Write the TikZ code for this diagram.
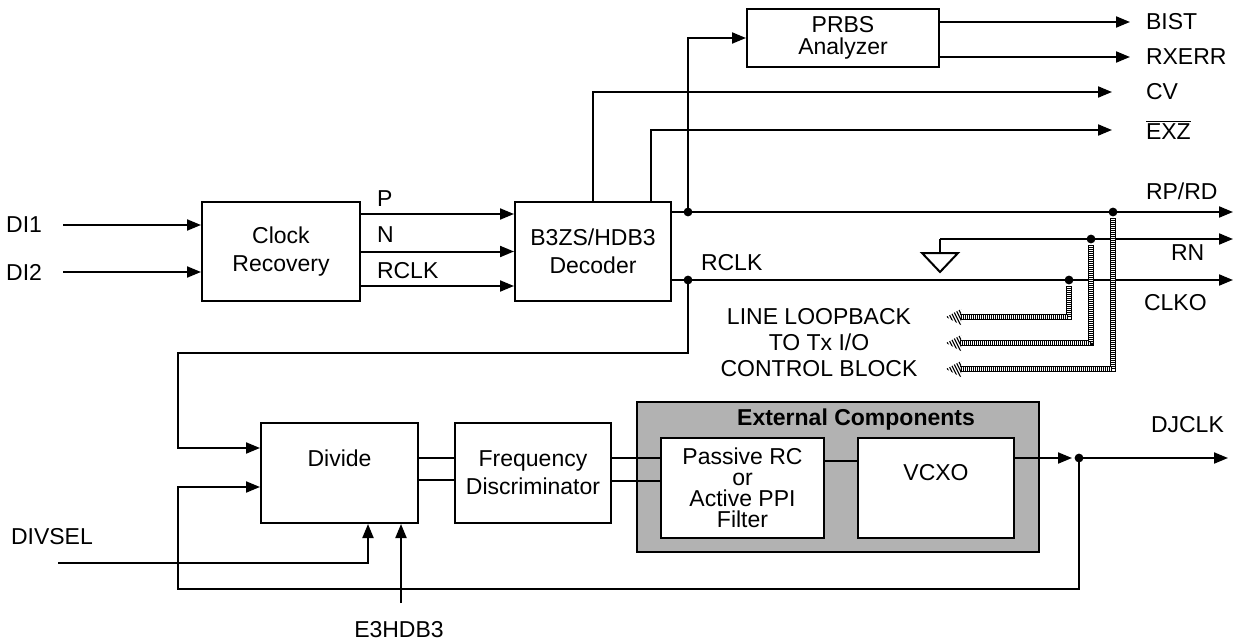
\documentclass[tikz,border=0pt]{standalone}
\usepackage{fontspec}
\setmainfont{Liberation Sans}
\usetikzlibrary{arrows.meta}

\begin{document}
\begin{tikzpicture}[x=0.5pt,y=-0.5pt,line width=1pt,
  font=\fontsize{11.5}{14}\selectfont,
  box/.style={draw,fill=white,align=center,inner sep=0pt},
  sig/.style={-{Triangle[length=7pt,width=5.5pt]}},
  loopedge/.style={line width=0.4pt,double,double distance=2pt},
  loophatch/.style={line width=2pt,dash pattern=on 0.45pt off 0.55pt},
  lbl/.style={inner sep=0pt}]
  \useasboundingbox (0,0) rectangle (1241,642);

  % blocks
  \node[box,minimum width=79pt,minimum height=49.5pt] (clk) at (281,251.5) {Clock\\Recovery};
  \node[box,minimum width=78pt,minimum height=49.5pt] (dec) at (593,251.5) {B3ZS/HDB3\\Decoder};
  \node[box,minimum width=96pt,minimum height=29pt,font=\fontsize{11.5}{11}\selectfont] (prbs) at (843,38) {PRBS\\Analyzer};
  \node[box,minimum width=78.5pt,minimum height=50pt,label={[yshift=7.5pt]center:Divide}] (div) at (339.5,473) {};
  \node[box,minimum width=78pt,minimum height=50pt] (fd) at (533,473) {Frequency\\Discriminator};
  \node[draw,fill=gray!60,minimum width=201pt,minimum height=75pt] (ext) at (838,477) {};
  \node[lbl,font=\fontsize{11.5}{14}\selectfont\bfseries] (exttitle) at (856,420) {External Components};
  \node[box,minimum width=81.5pt,minimum height=50pt,font=\fontsize{11.5}{10.5}\selectfont] (rc) at (742.5,488) {Passive RC\\or\\Active PPI\\Filter};
  \node[box,minimum width=78pt,minimum height=50pt,label={[yshift=7.5pt]center:VCXO}] (vcxo) at (936,488) {};

  % labels
  \node[lbl,anchor=east] (di1) at (43,225) {DI1};
  \node[lbl,anchor=east] (di2) at (43,272) {DI2};
  \node[lbl,anchor=west] (p) at (376,199) {P};
  \node[lbl,anchor=west] (n) at (376,235) {N};
  \node[lbl,anchor=west] (rclk) at (376,271) {RCLK};
  \node[lbl,anchor=west] (rclkb) at (700,263) {RCLK};
  \node[lbl,anchor=west] (bist) at (1145,22) {BIST};
  \node[lbl,anchor=west] (rxerr) at (1145,57) {RXERR};
  \node[lbl,anchor=west] (cv) at (1145,92) {CV};
  \node[lbl,anchor=west] (exz) at (1145,130) {$\overline{\hbox{EXZ}}$};
  \node[lbl,anchor=west] (rprd) at (1145,191) {RP/RD};
  \node[lbl,anchor=west] (rn) at (1170,253) {RN};
  \node[lbl,anchor=west] (clko) at (1143,303) {CLKO};
  \node[lbl,align=center,font=\fontsize{11.5}{13}\selectfont] (loop) at (819,343) {LINE LOOPBACK\\TO Tx I/O\\CONTROL BLOCK};
  \node[lbl,anchor=west] (djclk) at (1150,425) {DJCLK};
  \node[lbl,anchor=west] (divsel) at (10,537) {DIVSEL};
  \node[lbl] (e3) at (399,630) {E3HDB3};

  % junctions
  \coordinate (rpA) at (688,212);
  \coordinate (rpB) at (1113,212);
  \coordinate (rnA) at (1091,239);
  \coordinate (gnd) at (940,239);
  \coordinate (ckA) at (688,280);
  \coordinate (ckB) at (1069,280);
  \coordinate (djA) at (1079,458);

  % inputs
  \draw[sig] ([xshift=10pt]di1.east) -- (di1 -| clk.west);
  \draw[sig] ([xshift=10pt]di2.east) -- (di2 -| clk.west);
  \draw[sig] ([yshift=18.75pt]clk.east) -- ([yshift=18.75pt]clk.east -| dec.west);
  \draw[sig] (clk.east) -- (dec.west);
  \draw[sig] ([yshift=-17.25pt]clk.east) -- ([yshift=-17.25pt]clk.east -| dec.west);

  % decoder outputs
  \draw[sig] (dec.east |- rpA) -- (1233,212);
  \draw[sig] (rpA) |- (prbs.west);
  \draw[sig] (prbs.east |- bist.west) -- ([xshift=-7.5pt]bist.west);
  \draw[sig] (prbs.east |- rxerr.west) -- ([xshift=-7.5pt]rxerr.west);
  \draw[sig] (dec.north) |- ([xshift=-16.5pt]cv.west);
  \draw[sig] ([xshift=29pt]dec.north) |- ([xshift=-16.5pt]exz.west);
  \draw[sig] (gnd) -- (1233,239);
  \draw (gnd) -- ++(0,14) coordinate (gtop);
  \draw ([xshift=-9pt]gtop) -- ([xshift=9pt]gtop) -- ([yshift=-9.5pt]gtop) -- cycle;
  \draw[sig] (dec.east |- ckA) -- (1233,280);

  % loopback to Tx
  \foreach \jn/\yy in {ckB/317,rnA/343,rpB/369} {
    \coordinate (hh) at (946,\yy);
    \draw[loopedge] ([yshift=-3pt]\jn) |- ([xshift=7pt]hh);
    \draw[loophatch] ([yshift=-3pt]\jn) |- ([xshift=7pt]hh);
    \begin{scope}
      \clip (hh) -- ++(15,-8) -- ++(0,16) -- cycle;
      \foreach \k in {-12,-9,...,27}
        \draw[line width=0.55pt] (946+\k,\yy-9) -- ++(9,18);
    \end{scope}
  }

  % clock loop
  \draw[sig] (ckA) |- (178,353) |- ([yshift=12.5pt]div.west);
  \draw[sig] (58,563) -| ([xshift=14.25pt]div.south);
  \draw[sig] (401,603) -- ([xshift=30.75pt]div.south);
  \draw ([yshift=7.5pt]div.east) -- ([yshift=7.5pt]fd.west);
  \draw ([yshift=-3.5pt]div.east) -- ([yshift=-3.5pt]fd.west);
  \draw ([yshift=7.5pt]fd.east) -- ([yshift=7.5pt]fd.east -| rc.west);
  \draw ([yshift=-4pt]fd.east) -- ([yshift=-4pt]fd.east -| rc.west);
  \draw ([yshift=13.5pt]rc.east) -- ([yshift=13.5pt]rc.east -| vcxo.west);
  \draw[sig,shorten >=3.5pt] ([yshift=15pt]vcxo.east) -- (djA);
  \draw[sig] (djA) -- (1228,458);
  \draw[sig] (djA) |- (178,589) |- ([yshift=-7pt]div.west);

  \foreach \jn in {rpA,rpB,rnA,ckA,ckB,djA}
    \fill (\jn) circle (2.2pt);
\end{tikzpicture}
\end{document}
